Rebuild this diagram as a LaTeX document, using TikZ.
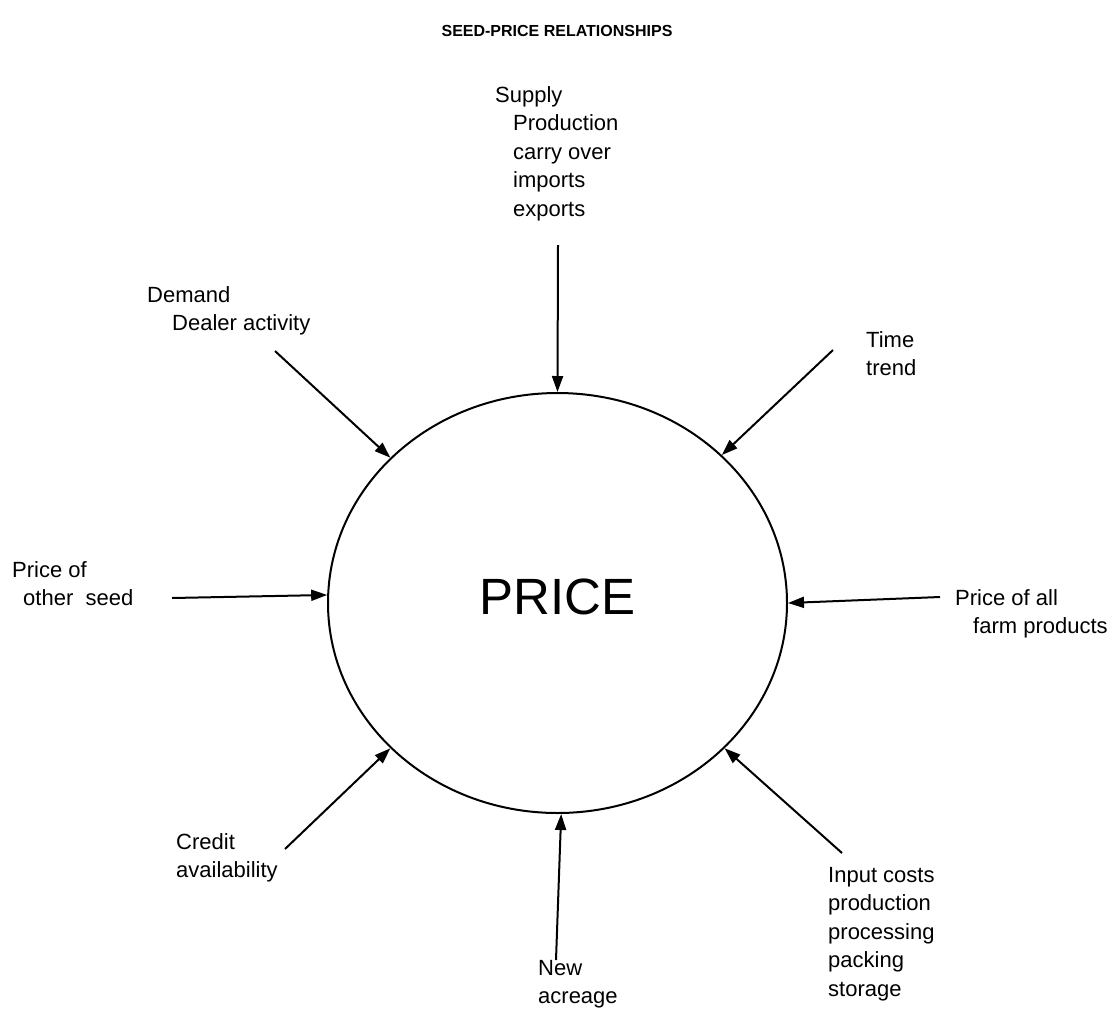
\documentclass[tikz,border=0pt]{standalone}
\usepackage{fontspec}
\setmainfont{Liberation Sans}
\usetikzlibrary{shapes.geometric,arrows.meta}
\tikzset{
  txt/.style={anchor=north west, inner sep=0pt, align=left, font=\fontsize{22}{28.5}\selectfont},
  feed/.style={line width=2pt, -{Triangle[length=16pt,width=11pt]}}
}
\begin{document}
\begin{tikzpicture}[x=1pt,y=-1pt]
        \useasboundingbox (0,0) rectangle (1114,1013);
        \node[anchor=base, inner sep=0pt, font=\fontsize{16}{18}\selectfont\bfseries] (title) at (557,36) {SEED-PRICE RELATIONSHIPS};
        \node[draw, ellipse, line width=2pt, inner sep=0pt, minimum width=459pt, minimum height=420pt, text depth=12pt, font=\fontsize{51}{57}\selectfont] (price) at (557.5,603) {PRICE};
        \node[txt] (supply) at (495,86) {Supply\\\hspace*{18pt}Production\\\hspace*{18pt}carry over\\\hspace*{18pt}imports\\\hspace*{18pt}exports};
        \node[txt] (demand) at (147,286) {Demand\\\hspace*{25pt}Dealer activity};
        \node[txt] (time) at (866,331) {Time\\trend};
        \node[txt] (other) at (12,561) {Price of\\\hspace*{11pt}other~ seed};
        \node[txt] (farm) at (955,589) {Price of all\\\hspace*{18pt}farm products};
        \node[txt] (credit) at (176,833) {Credit\\availability};
        \node[txt] (acreage) at (538,960) {New\\acreage};
        \node[txt] (input) at (828,867) {Input costs\\production\\processing\\packing\\storage};
        \coordinate (supply-end) at (558,245);
        \coordinate (demand-end) at (275,351);
        \coordinate (time-end) at (833,350);
        \coordinate (other-end) at (172,598);
        \coordinate (farm-end) at (940,597);
        \coordinate (credit-end) at (285,849);
        \coordinate (acreage-end) at (556,960);
        \coordinate (input-end) at (842,853);
        \draw[feed] (supply-end) -- (price.north);
        \draw[feed] (demand-end) -- (price.139.2);
        \draw[feed] (time-end) -- (price.42.9);
        \draw[feed] (other-end) -- (price.178.8);
        \draw[feed] (farm-end) -- (price.0.2);
        \draw[feed] (credit-end) -- (price.221.8);
        \draw[feed] (acreage-end) -- (price.271.2);
        \draw[feed] (input-end) -- (price.319.7);
    \end{tikzpicture}
\end{document}
